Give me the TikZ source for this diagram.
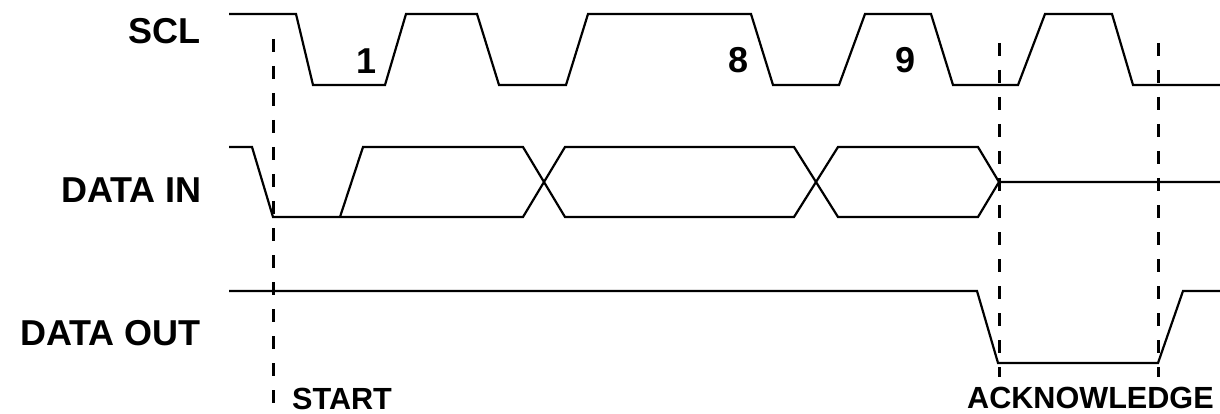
\documentclass[tikz,border=0pt]{standalone}
\usepackage{fontspec}
\setmainfont{Liberation Sans}
\begin{document}
\begin{tikzpicture}[x=1pt,y=-1pt,
  wave/.style={line width=2.2pt, line join=miter},
  marker/.style={line width=3pt, dash pattern=on 13pt off 14pt},
  siglabel/.style={font=\fontsize{36}{36}\selectfont\bfseries, inner sep=0pt, anchor=base east},
  numlabel/.style={font=\fontsize{36}{36}\selectfont\bfseries, inner sep=0pt, anchor=base},
  evlabel/.style={font=\fontsize{30.6}{31}\selectfont\bfseries, inner sep=0pt, anchor=base west}]
\useasboundingbox (0,0) rectangle (1220,414);
% labels
\node[siglabel] (scl) at (201,44) {SCL};
\node[siglabel] (din) at (202,202) {DATA IN};
\node[siglabel] (dout) at (201,345) {DATA OUT};
\node[numlabel] (n1) at (367,74) {1};
\node[numlabel] (n8) at (738,73) {8};
\node[numlabel] (n9) at (905,73) {9};
\node[evlabel] (start) at (292,409) {START};
\node[evlabel] (ack) at (967,408) {ACKNOWLEDGE};
% SCL
\draw[wave] (229,14) -- (296,14) -- (313,85) -- (385,85) -- (406,14) -- (477,14) -- (499,85)
  -- (566,85) -- (588,14) -- (751,14) -- (773,85) -- (839,85) -- (865,14) -- (931,14)
  -- (953,85) -- (1018,85) -- (1045,14) -- (1112,14) -- (1133,85) -- (1220,85);
% DATA IN
\draw[wave] (229,147) -- (252,147) -- (273,217) -- (523,217) -- (565,147) -- (794,147)
  -- (838,217) -- (978,217) -- (999,182) -- (1220,182);
\draw[wave] (340,217) -- (363,147) -- (523,147) -- (565,217) -- (794,217)
  -- (838,147) -- (978,147) -- (999,182);
% DATA OUT
\draw[wave] (229,291) -- (977,291) -- (998,363) -- (1158,363) -- (1183,291) -- (1220,291);
% markers
\coordinate (st1) at (273,39);
\coordinate (st2) at (273,408);
\coordinate (ak1) at (999,43);
\coordinate (ak2) at (999,377);
\coordinate (ak3) at (1158,43);
\coordinate (ak4) at (1158,377);
\draw[marker] (st1) -- (st2);
\draw[marker] (ak1) -- (ak2);
\draw[marker] (ak3) -- (ak4);
\end{tikzpicture}
\end{document}
